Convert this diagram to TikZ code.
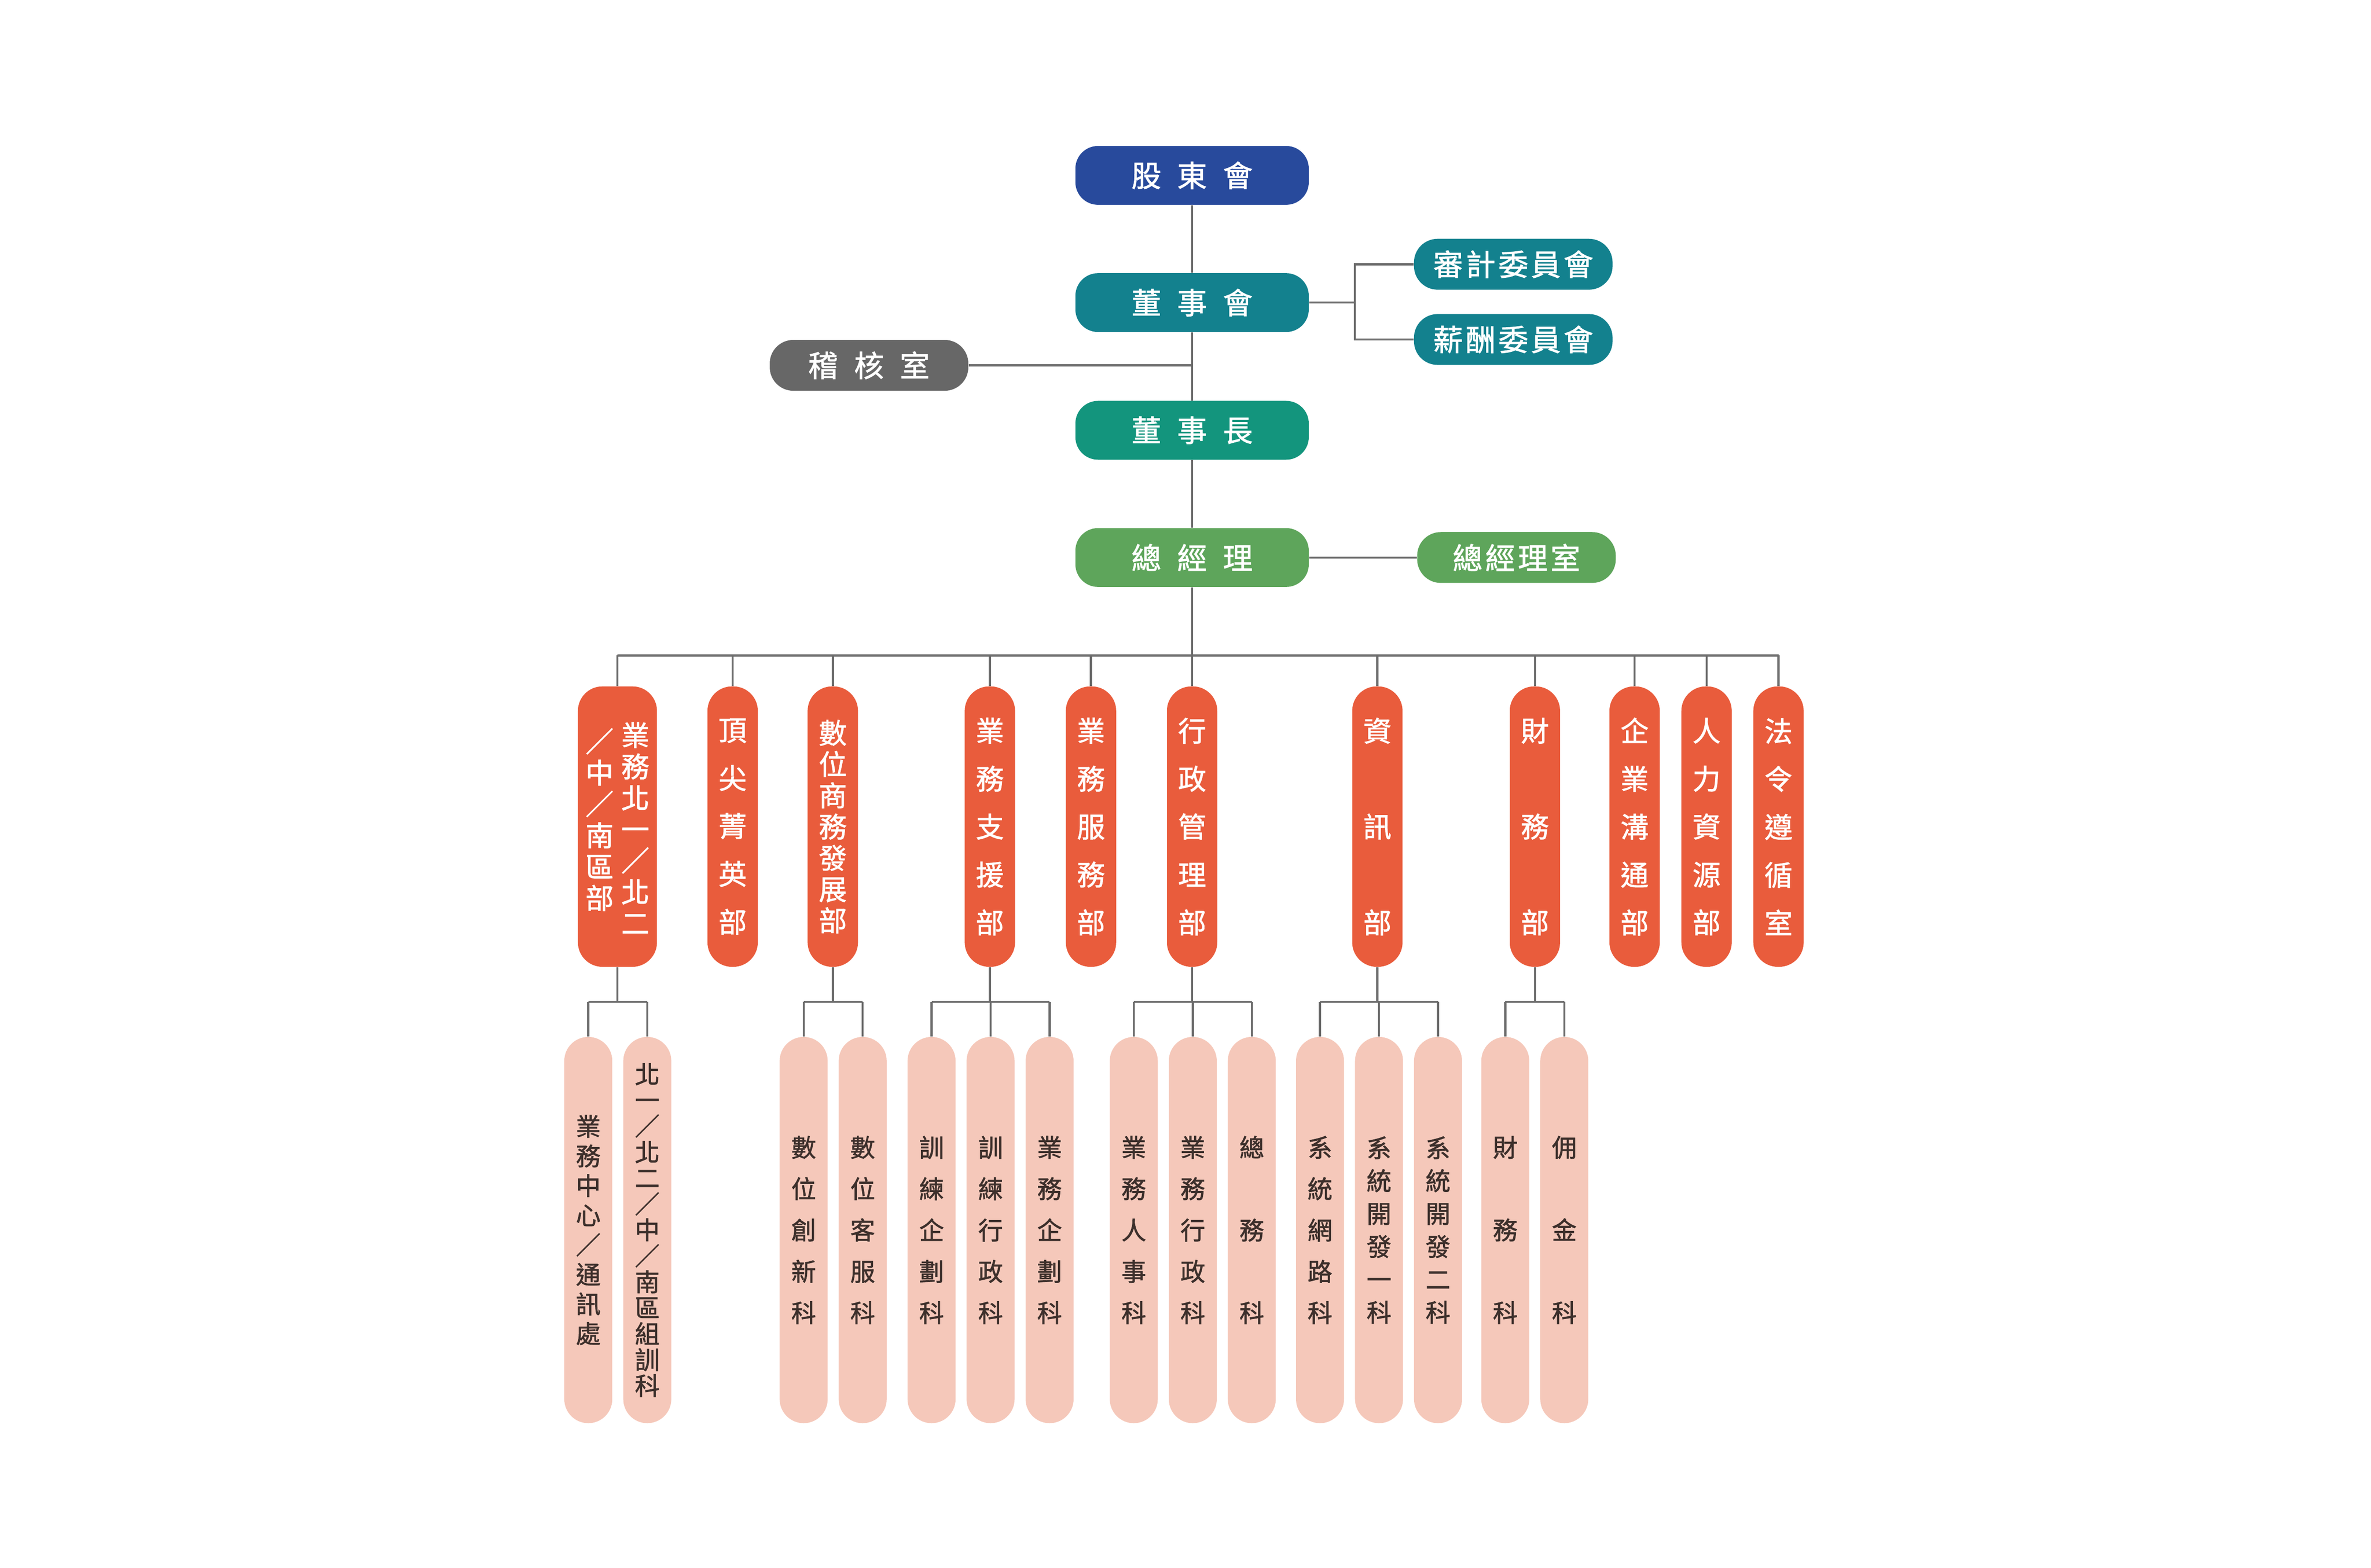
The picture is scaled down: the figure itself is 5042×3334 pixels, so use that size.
\documentclass[tikz,border=0pt]{standalone}
\usepackage{fontspec}
\newfontfamily\cjk{Noto Sans CJK TC}[FakeBold=1.5]
\usetikzlibrary{positioning}
\definecolor{navyblue}{HTML}{284A9C}
\definecolor{boardcol}{HTML}{13818E}
\definecolor{chaircol}{HTML}{13957D}
\definecolor{gmcol}{HTML}{5EA55B}
\definecolor{auditgray}{HTML}{676767}
\definecolor{deptred}{HTML}{E95C3C}
\definecolor{subpink}{HTML}{F5C8BA}
\definecolor{subtext}{HTML}{3D302C}
\definecolor{linegray}{HTML}{6B6B6B}
\newcommand\wsp{\hspace{3.4mm}}
\newcommand\nsp{\hspace{0.6mm}}

\begin{document}
\begin{tikzpicture}[x=0.01cm, y=-0.01cm,
    link/.style={draw=linegray, line width=0.45mm},
    headbox/.style={fill=#1, text=white, rounded corners=4.8mm, minimum width=49.6mm, minimum height=12.5mm, inner sep=0pt, font=\cjk\fontsize{18pt}{20pt}\selectfont},
    sidebox/.style={fill=#1, text=white, rounded corners=5mm, minimum width=42.2mm, minimum height=10.8mm, inner sep=0pt, font=\cjk\fontsize{18pt}{20pt}\selectfont},
    deptbox/.style={fill=deptred, text=white, rounded corners=5.2mm, minimum width=10.7mm, minimum height=59.6mm, inner sep=0pt, align=center, font=\cjk\fontsize{17pt}{#1}\selectfont},
    deptcol/.style={text=white, inner sep=0pt, align=center, font=\cjk\fontsize{17pt}{#1}\selectfont},
    subbox/.style={fill=subpink, text=subtext, rounded corners=5.1mm, minimum width=10.2mm, minimum height=82.1mm, inner sep=0pt, align=center, font=\cjk\fontsize{15pt}{#1}\selectfont}]
    \useasboundingbox (0,0) rectangle (5042,3334);

    \node[headbox=navyblue] (sh) at (2535,373) {股\wsp 東\wsp 會};
    \node[headbox=boardcol, below=14.4mm of sh] (bd) {董\wsp 事\wsp 會};
    \node[headbox=chaircol, below=14.5mm of bd] (ch) {董\wsp 事\wsp 長};
    \node[headbox=gmcol, below=14.4mm of ch] (gm) {總\wsp 經\wsp 理};
    \node[sidebox=boardcol] (ac) at (3218,562) {審\nsp 計\nsp 委\nsp 員\nsp 會};
    \node[sidebox=boardcol] (rc) at (3218,722) {薪\nsp 酬\nsp 委\nsp 員\nsp 會};
    \node[sidebox=auditgray] (ia) at (1848,777) {稽\wsp 核\wsp 室};
    \node[sidebox=gmcol, right=22.9mm of gm] (go) {總\nsp 經\nsp 理\nsp 室};

    \node[deptbox=29pt, minimum width=16.8mm] (d1) at (1313,1758) {};
    \node[deptcol=18.95pt] (d1r) at (1351,1761) {業\\務\\北\\一\\／\\北\\二};
    \node[deptcol=18.95pt] (d1l) at (1275,1743) {／\\中\\／\\南\\區\\部};
    \node[deptbox=29pt] (d2) at (1558,1758) {頂\\尖\\菁\\英\\部};
    \node[deptbox=18.9pt] (d3) at (1771,1758) {數\\位\\商\\務\\發\\展\\部};
    \node[deptbox=29pt] (d4) at (2105,1758) {業\\務\\支\\援\\部};
    \node[deptbox=29pt] (d5) at (2320,1758) {業\\務\\服\\務\\部};
    \node[deptbox=29pt] (d6) at (2535,1758) {行\\政\\管\\理\\部};
    \node[deptbox=58pt] (d7) at (2929,1758) {資\\訊\\部};
    \node[deptbox=58pt] (d8) at (3264,1758) {財\\務\\部};
    \node[deptbox=29pt] (d9) at (3476,1758) {企\\業\\溝\\通\\部};
    \node[deptbox=29pt] (d10) at (3629,1758) {人\\力\\資\\源\\部};
    \node[deptbox=29pt] (d11) at (3782,1758) {法\\令\\遵\\循\\室};

    \node[subbox=17.9pt] (s1) at (1251,2616) {業\\務\\中\\心\\／\\通\\訊\\處};
    \node[subbox=15.7pt, right=2.2mm of s1] (s2) {北\\一\\／\\北\\二\\／\\中\\／\\南\\區\\組\\訓\\科};
    \node[subbox=25pt] (s3) at (1709,2616) {數\\位\\創\\新\\科};
    \node[subbox=25pt, right=2.2mm of s3] (s4) {數\\位\\客\\服\\科};
    \node[subbox=25pt] (s5) at (1981,2616) {訓\\練\\企\\劃\\科};
    \node[subbox=25pt, right=2.2mm of s5] (s6) {訓\\練\\行\\政\\科};
    \node[subbox=25pt, right=2.2mm of s6] (s7) {業\\務\\企\\劃\\科};
    \node[subbox=25pt] (s8) at (2411,2616) {業\\務\\人\\事\\科};
    \node[subbox=25pt, right=2.2mm of s8] (s9) {業\\務\\行\\政\\科};
    \node[subbox=50pt, right=2.2mm of s9] (s10) {總\\務\\科};
    \node[subbox=25pt] (s11) at (2807,2616) {系\\統\\網\\路\\科};
    \node[subbox=19.9pt, right=2.2mm of s11] (s12) {系\\統\\開\\發\\一\\科};
    \node[subbox=19.9pt, right=2.2mm of s12] (s13) {系\\統\\開\\發\\二\\科};
    \node[subbox=50pt] (s14) at (3201,2616) {財\\務\\科};
    \node[subbox=50pt, right=2.2mm of s14] (s15) {佣\\金\\科};

    \coordinate (bus) at (2535,1394);
    \coordinate (bx) at (2881,0);
    \coordinate (bj) at (bd.east -| bx);
    \coordinate (sb) at (0,2131);
    \draw[link] (sh) -- (bd) -- (ch) -- (gm) -- (bus);
    \draw[link] (ia.east) -- (ia.east -| bd.south);
    \draw[link] (bd.east) -- (bj);
    \draw[link] (ac.west) -| (bj) |- (rc.west);
    \draw[link] (gm.east) -- (go.west);
    \draw[link] (d1.north |- bus) -- (d11.north |- bus);
    \foreach \d in {d1,d2,d3,d4,d5,d6,d7,d8,d9,d10,d11}
        \draw[link] (\d.north) -- (\d.north |- bus);
    \foreach \p/\a/\b in {d1/s1/s2, d3/s3/s4, d4/s5/s7, d6/s8/s10, d7/s11/s13, d8/s14/s15} {
        \draw[link] (\p.south) -- (\p.south |- sb);
        \draw[link] (\a.north |- sb) -- (\b.north |- sb);
    }
    \foreach \s in {s1,s2,s3,s4,s5,s6,s7,s8,s9,s10,s11,s12,s13,s14,s15}
        \draw[link] (\s.north) -- (\s.north |- sb);
\end{tikzpicture}
\end{document}
